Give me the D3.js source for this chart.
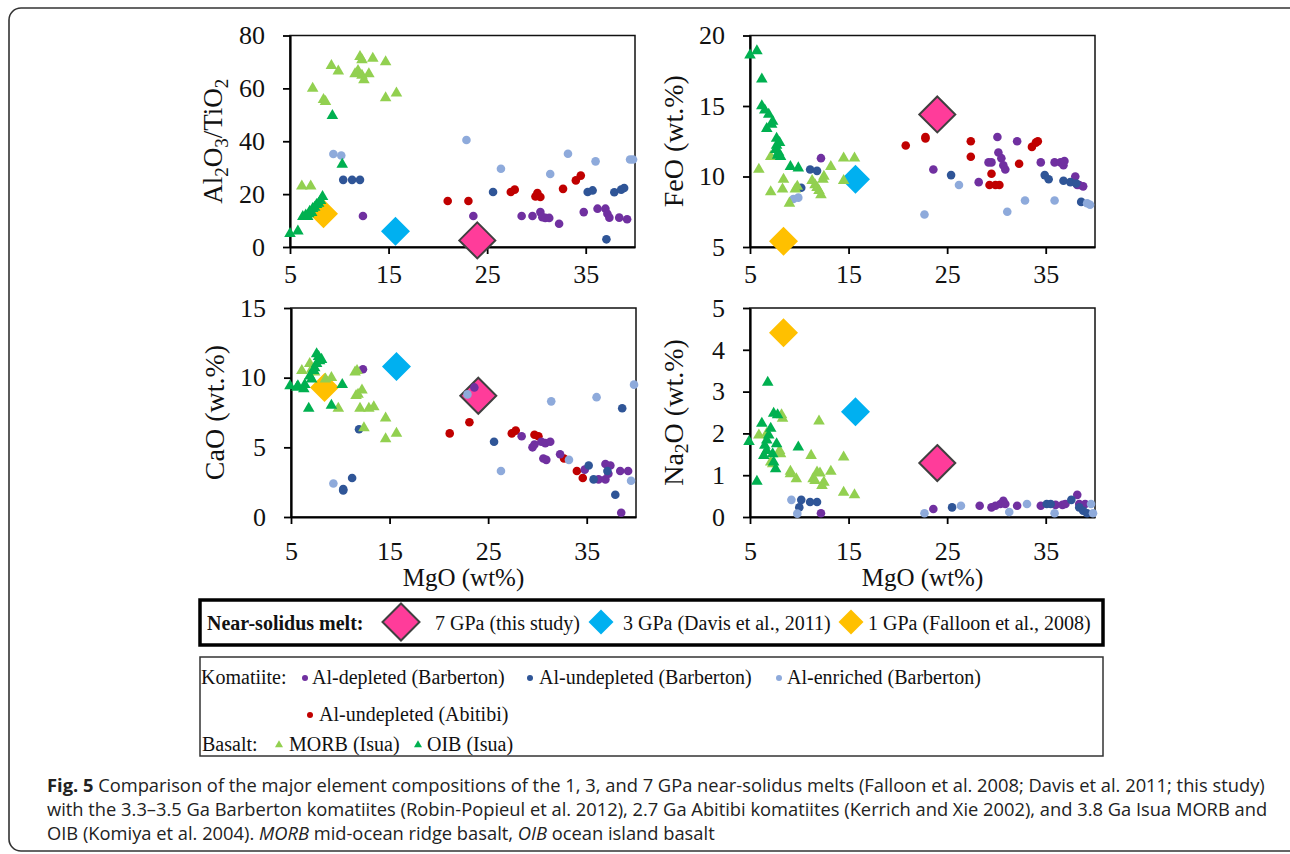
<!DOCTYPE html>
<html>
<head>
	<title>Fig. 5 - major element compositions</title>
	<script src="https://d3js.org/d3.v7.min.js"></script>
	<style>
		body { margin: 0; background: #fff; }
		.tick text { font-family: "Liberation Serif", "Times New Roman", serif; font-size: 26px; fill: #111; }
		.axis path, .axis line { stroke: #000; }
		.lab { font-family: "Liberation Serif", "Times New Roman", serif; fill: #111; }
		.leg { font-family: "Liberation Serif", "Times New Roman", serif; font-size: 20px; fill: #111; }
		.cap { font-family: "Open Sans", "Noto Sans", sans-serif; font-size: 17.5px; fill: #222; }
	</style>
</head>
<body>
<svg width="1290" height="854"></svg>

<script type="text/javascript">
var width = 1290, height = 854;

// axes
var mgoTicks = [5, 15, 25, 35];
var alTiTicks = [0, 20, 40, 60, 80];
var feoTicks = [5, 10, 15, 20];
var caoTicks = [0, 5, 10, 15];
var na2oTicks = [0, 1, 2, 3, 4, 5];

// near-solidus melts: 7 GPa, 3 GPa, 1 GPa
var meltNames = ["7 GPa (this study)", "3 GPa (Davis et al., 2011)", "1 GPa (Falloon et al., 2008)"];
var meltMgO = [24.0, 15.7, 8.4];
var meltAlTi = [2.5, 6.0, 12.6];
var meltFeO = [14.4, 9.8, 5.4];
var meltCaO = [8.7, 10.8, 9.3];
var meltNa2O = [1.29, 2.52, 4.41];

// [MgO, value] pairs, Al2O3/TiO2
var depletedAlTi = [[12.4,11.7],[23.6,11.7],[28.5,11.7],[29.6,11.7],[30.4,13.2],[30.6,11.3],[30.9,11],[31.3,11],[32.3,8.8],[34.8,13.2],[36.2,14.5],[37.0,14.5],[37.2,12.6],[37.4,11.1],[38.4,11.1],[39.2,10.5]];
var undepletedAlTi = [[10.4,25.4],[11.3,25.4],[12.1,25.4],[25.6,20.8],[35.2,20.8],[35.7,21.4],[37.9,20.7],[38.6,21.7],[38.9,22.3],[37.1,2.9]];
var enrichedAlTi = [[9.4,35.2],[10.2,34.6],[22.9,40.5],[26.4,29.6],[31.4,27.6],[33.2,35.3],[36.0,32.4],[39.5,33.1],[39.8,33.1]];
var abitibiAlTi = [[21.0,17.4],[23.1,17.4],[27.4,20.8],[27.8,21.7],[29.9,19.1],[30.1,20.4],[30.4,18.9],[32.7,22],[34.0,25.2],[34.5,27]];
var morbAlTi = [[6.2,23],[7.1,23],[7.3,60],[8.4,55.7],[8.6,55],[9.2,68.6],[9.9,66.5],[12.1,72],[12.3,70.8],[11.6,65.5],[11.9,66.7],[12.3,64.9],[13.0,65.5],[12.5,63.2],[13.4,71.3],[14.7,70],[14.7,56.4],[15.8,58.2]];
var oibAlTi = [[5.0,5],[5.8,6],[6.3,11.5],[6.6,12],[6.9,12.5],[7.0,13.5],[7.3,14.5],[7.5,15],[7.7,16],[7.9,16.5],[8.1,17.5],[8.3,19],[6.8,11.5],[7.2,13],[9.3,49.7],[10.3,31.2]];

// FeO
var depletedFeO = [[12.2,11.3],[23.6,10.5],[28.2,9.6],[29.2,11.0],[29.5,11.0],[30.1,12.8],[30.2,11.7],[30.5,11.3],[30.7,10.8],[30.9,10.5],[32.1,12.5],[34.5,11.0],[35.9,11.0],[36.5,11.0],[36.8,10.8],[36.9,11.1],[38.0,10.0],[38.2,9.4],[38.4,9.4],[38.8,9.3]];
var undepletedFeO = [[10.2,9.2],[11.1,10.5],[11.8,10.4],[25.4,10.1],[34.9,10.1],[35.3,9.8],[36.8,9.7],[37.5,9.6],[38.1,9.5],[38.6,8.2]];
var enrichedFeO = [[9.4,8.4],[9.9,8.5],[22.7,7.3],[26.2,9.4],[31.1,7.5],[32.9,8.3],[35.9,8.3],[39.2,8.1],[39.5,8.0]];
var abitibiFeO = [[20.8,12.2],[22.8,12.8],[22.8,12.7],[27.4,12.5],[27.4,11.4],[29.5,10.2],[29.3,9.4],[29.9,9.4],[30.3,9.4],[32.3,10.9],[33.6,12.1],[34.0,12.4],[34.2,12.5]];
var morbFeO = [[5.9,10.5],[7.1,11.4],[7.1,8.9],[8.4,9.8],[8.3,9.1],[9.0,8.1],[9.6,9.1],[9.8,9.3],[11.3,9.7],[11.6,9.4],[11.8,9.2],[12.0,9.0],[12.2,8.7],[12.4,9.8],[12.5,10.0],[13.2,10.7],[14.5,11.3],[15.6,11.3],[14.5,9.7]];
var oibFeO = [[5.0,18.6],[5.7,18.9],[6.2,16.9],[6.2,15.0],[6.5,14.7],[6.9,14.4],[6.7,13.4],[7.2,13.7],[7.3,13.9],[7.7,12.7],[8.0,12.4],[7.7,12.2],[7.6,11.9],[7.9,11.7],[7.8,11.5],[8.1,11.4],[9.1,10.7],[9.9,10.6]];

// CaO
var depletedCaO = [[12.3,10.6],[23.6,9.3],[28.4,5.8],[29.5,5.0],[29.7,5.2],[30.4,5.4],[30.8,5.3],[31.3,5.4],[30.6,4.2],[30.9,4.1],[32.3,4.5],[34.8,3.4],[36.2,2.7],[36.9,2.7],[37.2,3.1],[36.9,3.8],[37.4,3.7],[38.4,3.3],[39.2,3.3],[38.5,0.3]];
var undepletedCaO = [[10.3,2.0],[10.3,1.9],[11.2,2.8],[11.9,6.3],[25.6,5.4],[35.2,3.7],[35.7,2.7],[37.9,1.6],[38.6,7.8],[37.1,3.3]];
var enrichedCaO = [[9.3,2.4],[22.9,8.8],[26.3,3.3],[31.4,8.3],[33.2,4.1],[36.0,8.6],[39.5,2.6],[39.8,9.5]];
var abitibiCaO = [[21.1,6.0],[23.1,6.8],[27.4,6.0],[27.8,6.2],[29.7,5.9],[30.1,5.8],[32.7,4.2],[34.0,3.3],[34.6,2.8]];
var morbCaO = [[6.1,10.5],[6.9,11.0],[7.1,10.6],[7.4,10.4],[8.5,9.9],[9.1,10.0],[9.8,7.8],[11.5,10.4],[11.7,10.5],[11.6,8.7],[12.2,9.1],[11.8,8.8],[12.0,7.8],[12.9,7.8],[13.4,7.9],[12.4,6.4],[14.6,7.1],[14.6,5.6],[15.7,6.0]];
var oibCaO = [[4.9,9.4],[5.6,9.3],[6.3,9.2],[6.4,9.5],[5.7,9.4],[6.8,7.8],[7.6,11.7],[7.8,11.5],[7.9,11.2],[8.1,11.3],[7.6,11.0],[7.4,10.7],[7.3,10.5],[6.9,10.1],[7.1,9.9],[9.1,8.0],[10.2,9.5]];

// Na2O
var depletedNa2O = [[12.2,0.09],[23.6,0.19],[28.3,0.27],[29.5,0.23],[29.9,0.27],[30.4,0.31],[30.7,0.39],[30.9,0.31],[32.1,0.27],[34.5,0.27],[36.0,0.29],[36.7,0.29],[37.0,0.31],[38.2,0.53],[38.4,0.31],[39.0,0.31]];
var undepletedNa2O = [[10.0,0.23],[10.2,0.41],[11.1,0.36],[11.8,0.36],[25.5,0.23],[35.1,0.31],[35.5,0.31],[37.6,0.41],[38.4,0.23],[38.8,0.15],[39.2,0.09]];
var enrichedNa2O = [[9.2,0.41],[9.8,0.08],[22.7,0.09],[26.4,0.27],[31.3,0.12],[33.1,0.31],[35.9,0.09],[39.6,0.31],[39.8,0.09]];
var abitibiNa2O = [];
var morbNa2O = [[5.9,1.96],[6.7,2.0],[8.3,2.36],[8.2,2.44],[7.1,1.31],[7.3,1.27],[8.1,1.51],[8.0,1.59],[9.1,1.09],[9.1,1.03],[9.7,0.91],[11.2,1.47],[11.4,0.91],[11.6,0.87],[11.8,1.07],[12.1,1.05],[12.3,0.75],[12.5,0.83],[12.0,2.29],[13.2,1.09],[14.5,1.43],[14.5,0.59],[15.6,0.53]];
var oibNa2O = [[4.9,1.8],[5.7,0.85],[6.2,2.24],[6.8,3.22],[6.7,1.84],[6.9,1.96],[7.1,2.12],[6.4,1.47],[6.7,1.59],[6.5,1.71],[7.4,2.48],[7.8,2.44],[7.3,1.51],[7.4,1.31],[7.6,1.15],[7.7,1.75],[9.9,1.67]];

var meltColors = ["#ff3c9a", "#00b0f0", "#ffc000"];
var series = [
	{key: "abitibi", color: "#c00000", shape: "dot"},
	{key: "depleted", color: "#7030a0", shape: "dot"},
	{key: "undepleted", color: "#2f5597", shape: "dot"},
	{key: "enriched", color: "#8eaadb", shape: "dot"},
	{key: "morb", color: "#92d050", shape: "tri"},
	{key: "oib", color: "#00b050", shape: "tri"}
];

var panels = [
	{left: 290, top: 35.5, bottom: 247, domain: [0, 80], ticks: alTiTicks, melt: meltAlTi, xlab: false,
	 data: {abitibi: abitibiAlTi, depleted: depletedAlTi, undepleted: undepletedAlTi, enriched: enrichedAlTi, morb: morbAlTi, oib: oibAlTi},
	 label: [["Al"], ["2", 1], ["O"], ["3", 1], ["/TiO"], ["2", 1]], labelSize: 27},
	{left: 750, top: 35.5, bottom: 247, domain: [5, 20], ticks: feoTicks, melt: meltFeO, xlab: false,
	 data: {abitibi: abitibiFeO, depleted: depletedFeO, undepleted: undepletedFeO, enriched: enrichedFeO, morb: morbFeO, oib: oibFeO},
	 label: [["FeO (wt.%)"]], labelSize: 28},
	{left: 291, top: 308, bottom: 517, domain: [0, 15], ticks: caoTicks, melt: meltCaO, xlab: true,
	 data: {abitibi: abitibiCaO, depleted: depletedCaO, undepleted: undepletedCaO, enriched: enrichedCaO, morb: morbCaO, oib: oibCaO},
	 label: [["CaO (wt.%)"]], labelSize: 28},
	{left: 750, top: 308, bottom: 517, domain: [0, 5], ticks: na2oTicks, melt: meltNa2O, xlab: true,
	 data: {abitibi: abitibiNa2O, depleted: depletedNa2O, undepleted: undepletedNa2O, enriched: enrichedNa2O, morb: morbNa2O, oib: oibNa2O},
	 label: [["Na"], ["2", 1], ["O (wt.%)"]], labelSize: 28}
];
var panelWidth = 345;

var svg = d3.select('svg');
var triangle = d3.symbol().type(d3.symbolTriangle).size(58);

// outer rounded frame
svg.append('rect')
	.attr('x', 9).attr('y', 8)
	.attr('width', 1300).attr('height', 843)
	.attr('rx', 12)
	.attr('fill', 'none')
	.attr('stroke', '#333')
	.attr('stroke-width', 1.6);

function diamond(g, cx, cy, r, color, outline) {
	g.append('path')
		.attr('d', 'M' + cx + ',' + (cy - r) + 'L' + (cx + r) + ',' + cy + 'L' + cx + ',' + (cy + r) + 'L' + (cx - r) + ',' + cy + 'Z')
		.attr('fill', color)
		.attr('stroke', outline ? '#404040' : 'none')
		.attr('stroke-width', 2);
}

panels.forEach(function(p) {
	var x = d3.scaleLinear().domain([5, 40]).range([p.left, p.left + panelWidth]);
	var y = d3.scaleLinear().domain(p.domain).range([p.bottom, p.top]);
	var g = svg.append('g');

	// plot frame (top/right)
	g.append('rect')
		.attr('x', p.left).attr('y', p.top)
		.attr('width', panelWidth).attr('height', p.bottom - p.top)
		.attr('fill', 'none').attr('stroke', '#111').attr('stroke-width', 1.5);

	g.append('g').attr('class', 'axis')
		.attr('transform', 'translate(0,' + p.bottom + ')')
		.call(d3.axisBottom(x).tickValues(mgoTicks).tickSize(7).tickSizeOuter(0)
			.tickPadding(p.xlab ? 18 : 11).tickFormat(d3.format('d')));
	g.append('g').attr('class', 'axis')
		.attr('transform', 'translate(' + p.left + ',0)')
		.call(d3.axisLeft(y).tickValues(p.ticks).tickSize(7).tickSizeOuter(0)
			.tickPadding(18).tickFormat(d3.format('d')));
	g.selectAll('.axis path').attr('stroke-width', 2.2);
	g.selectAll('.axis line').attr('stroke-width', 1.8);

	// y label
	var lab = g.append('text').attr('class', 'lab')
		.attr('transform', 'translate(' + (p.left - 77) + ',' + ((p.top + p.bottom) / 2) + ') rotate(-90)')
		.attr('text-anchor', 'middle')
		.attr('dy', '0.35em')
		.style('font-size', p.labelSize + 'px');
	p.label.forEach(function(part, i) {
		var prevSub = i > 0 && p.label[i - 1][1];
		var t = lab.append('tspan').text(part[0]);
		if (part[1]) t.attr('dy', '0.28em').style('font-size', '0.7em');
		else if (prevSub) t.attr('dy', '-0.2em');
	});

	if (p.xlab) {
		g.append('text').attr('class', 'lab')
			.attr('x', p.left + panelWidth / 2).attr('y', p.bottom + 69)
			.attr('text-anchor', 'middle')
			.style('font-size', '25px')
			.text('MgO (wt%)');
	}

	// near-solidus melts
	meltMgO.forEach(function(m, i) {
		diamond(g, x(m), y(p.melt[i]), i === 0 ? 18 : 14.5, meltColors[i], i === 0);
	});

	series.forEach(function(s) {
		var pts = p.data[s.key];
		if (s.shape === 'dot') {
			g.selectAll(null).data(pts).enter().append('circle')
				.attr('cx', function(d) { return x(d[0]); })
				.attr('cy', function(d) { return y(d[1]); })
				.attr('r', 4.3)
				.attr('fill', s.color);
		} else {
			g.selectAll(null).data(pts).enter().append('path')
				.attr('d', triangle)
				.attr('transform', function(d) { return 'translate(' + x(d[0]) + ',' + y(d[1]) + ')'; })
				.attr('fill', s.color);
		}
	});
});

// legend 1: near-solidus melts
var leg1 = svg.append('g');
leg1.append('rect').attr('x', 200).attr('y', 600).attr('width', 903).attr('height', 45)
	.attr('fill', 'none').attr('stroke', '#000').attr('stroke-width', 3.5);
leg1.append('text').attr('class', 'leg').attr('x', 207).attr('y', 630)
	.style('font-weight', 'bold').text('Near-solidus melt:');
var meltLegX = [401, 601, 851];
var meltTextX = [435, 623, 868];
meltNames.forEach(function(n, i) {
	diamond(leg1, meltLegX[i], 622, i === 0 ? 18.5 : 12.5, meltColors[i], i === 0);
	leg1.append('text').attr('class', 'leg').attr('x', meltTextX[i]).attr('y', 630).text(n);
});

// legend 2: komatiites and basalts
var leg2 = svg.append('g');
leg2.append('rect').attr('x', 200).attr('y', 657).attr('width', 903).attr('height', 99)
	.attr('fill', 'none').attr('stroke', '#333').attr('stroke-width', 1.5);
var legItems = [
	{text: 'Komatiite:', x: 201, y: 684},
	{text: 'Al-depleted (Barberton)', x: 312, y: 684, mark: 'depleted', mx: 305},
	{text: 'Al-undepleted (Barberton)', x: 539, y: 684, mark: 'undepleted', mx: 530},
	{text: 'Al-enriched (Barberton)', x: 787, y: 684, mark: 'enriched', mx: 779},
	{text: 'Al-undepleted (Abitibi)', x: 319, y: 721, mark: 'abitibi', mx: 310},
	{text: 'Basalt:', x: 202, y: 751},
	{text: 'MORB (Isua)', x: 289, y: 751, mark: 'morb', mx: 279},
	{text: 'OIB (Isua)', x: 427, y: 751, mark: 'oib', mx: 418}
];
legItems.forEach(function(it) {
	leg2.append('text').attr('class', 'leg').attr('x', it.x).attr('y', it.y).text(it.text);
	if (!it.mark) return;
	var s = series.filter(function(d) { return d.key === it.mark; })[0];
	if (s.shape === 'dot') {
		leg2.append('circle').attr('cx', it.mx).attr('cy', it.y - 6).attr('r', 3).attr('fill', s.color);
	} else {
		leg2.append('path').attr('d', d3.symbol().type(d3.symbolTriangle).size(28))
			.attr('transform', 'translate(' + it.mx + ',' + (it.y - 6) + ')').attr('fill', s.color);
	}
});

// caption, squeezed so the first line spans the figure width
var captionLines = [
	[["Fig. 5", "b"], [" Comparison of the major element compositions of the 1, 3, and 7 GPa near-solidus melts (Falloon et al. 2008; Davis et al. 2011; this study)"]],
	[["with the 3.3\u20133.5 Ga Barberton komatiites (Robin-Popieul et al. 2012), 2.7 Ga Abitibi komatiites (Kerrich and Xie 2002), and 3.8 Ga Isua MORB and"]],
	[["OIB (Komiya et al. 2004). "], ["MORB", "i"], [" mid-ocean ridge basalt, "], ["OIB", "i"], [" ocean island basalt"]]
];
var cap = svg.append('g');
var capTexts = captionLines.map(function(line, i) {
	var t = cap.append('text').attr('class', 'cap').attr('x', 0).attr('y', 792 + i * 24);
	line.forEach(function(part) {
		var s = t.append('tspan').text(part[0]);
		if (part[1] === 'b') s.style('font-weight', 'bold');
		if (part[1] === 'i') s.style('font-style', 'italic');
	});
	return t;
});
var natural = capTexts[0].node().getComputedTextLength();
cap.attr('transform', 'translate(47,0) scale(' + (1218 / natural) + ',1)');

</script>

</body>
</html>
